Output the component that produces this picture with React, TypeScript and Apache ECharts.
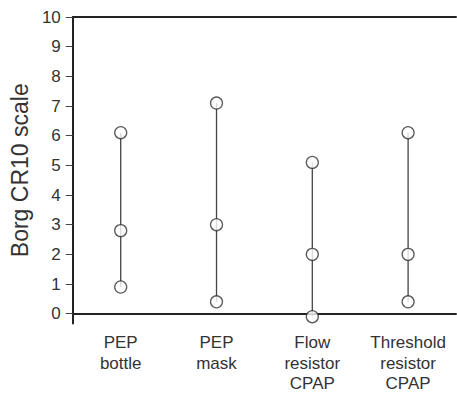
import React, { useEffect, useRef } from "react";
import * as echarts from "echarts";

const categories = ["PEP\nbottle", "PEP\nmask", "Flow\nresistor\nCPAP", "Threshold\nresistor\nCPAP"];
const highValues = [6.1, 7.1, 5.1, 6.1];
const midValues = [2.8, 3.0, 2.0, 2.0];
const lowValues = [0.9, 0.4, -0.1, 0.4];
const yTicks = [0, 1, 2, 3, 4, 5, 6, 7, 8, 9, 10];

const FONT = "'Liberation Sans', Arial, Helvetica, sans-serif";

export default function App() {
  const ref = useRef<HTMLDivElement>(null);
  useEffect(() => {
    if (!ref.current) return;
    const chart = echarts.init(ref.current, null, { renderer: "svg" });
    const rangeData = categories.map((_, i) => [i, lowValues[i], highValues[i]]);
    const pointStyle = { color: "#ffffff", borderColor: "#333333", borderWidth: 1.3 };
    chart.setOption({
      animation: false,
      backgroundColor: "#ffffff",
      grid: { left: 69, right: 1, top: 17, bottom: 69, containLabel: false },
      xAxis: [
        {
          type: "category",
          data: categories,
          position: "bottom",
          axisLine: { show: true, lineStyle: { color: "#222222", width: 2 } },
          axisTick: { show: false },
          axisLabel: { fontSize: 17, lineHeight: 20.5, color: "#333333", margin: 9, fontFamily: FONT, interval: 0 },
          splitLine: { show: false },
        },
        {
          type: "category",
          data: categories,
          position: "top",
          axisLine: { show: true, lineStyle: { color: "#222222", width: 2 } },
          axisTick: { show: false },
          axisLabel: { show: false },
          splitLine: { show: false },
        },
      ],
      yAxis: {
        type: "value",
        min: -0.33,
        max: 10,
        name: "Borg CR10 scale",
        nameLocation: "middle",
        nameGap: 38,
        nameTextStyle: { fontSize: 23, color: "#333333", fontFamily: FONT },
        axisLine: { show: true, lineStyle: { color: "#222222", width: 2 } },
        axisTick: { show: true, customValues: yTicks, length: 7, lineStyle: { color: "#444444", width: 1 } },
        axisLabel: { customValues: yTicks, fontSize: 17, color: "#333333", margin: 12, fontFamily: FONT },
        splitLine: { show: false },
      },
      series: [
        {
          type: "custom",
          data: rangeData,
          encode: { x: 0, y: [1, 2] },
          z: 1,
          renderItem: (params: any, api: any) => {
            const s = api.coord([api.value(0), api.value(1)]);
            const e = api.coord([api.value(0), api.value(2)]);
            return {
              type: "line",
              shape: { x1: s[0], y1: s[1], x2: e[0], y2: e[1] },
              style: { stroke: "#444444", lineWidth: 1.3 },
            };
          },
        },
        { type: "scatter", data: highValues, symbol: "circle", symbolSize: 12, itemStyle: pointStyle, z: 3 },
        { type: "scatter", data: midValues, symbol: "circle", symbolSize: 12, itemStyle: pointStyle, z: 3 },
        { type: "scatter", data: lowValues, symbol: "circle", symbolSize: 12, itemStyle: pointStyle, z: 3 },
      ],
    });
    return () => chart.dispose();
  }, []);
  return <div ref={ref} style={{ position: "fixed", left: 0, top: 0, width: 457, height: 394 }} />;
}
